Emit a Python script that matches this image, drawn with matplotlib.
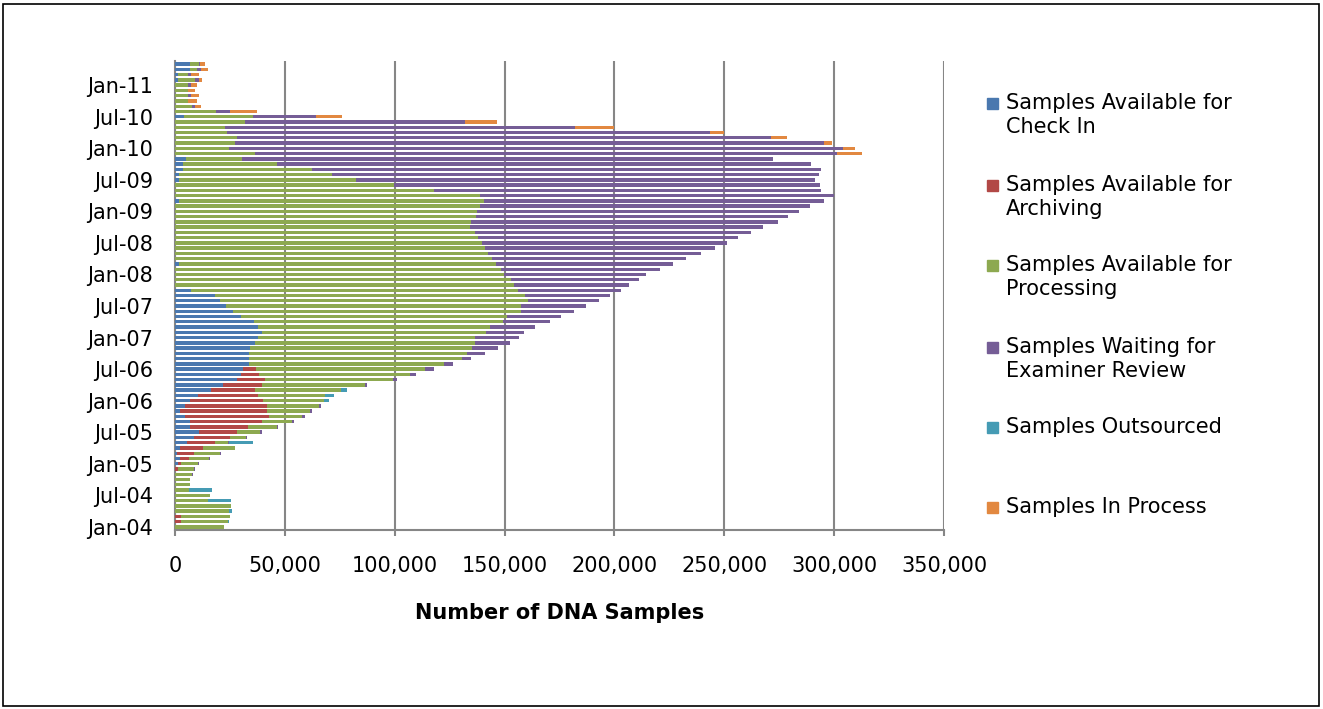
import numpy as np
import pandas as pd
import matplotlib
matplotlib.use('Agg')
import matplotlib.pyplot as plt
from matplotlib.patches import Rectangle

# monthly backlog, Jan-04 .. May-11, values in thousands of samples
months = pd.date_range('2004-01-01', periods=89, freq='MS')

check_in = [0, 0, 0, 0, 0, 0, 0, 0, 0, 0, 0, 0,
            1.2, 2.4, 0.8, 2.4, 5.4, 8.5, 11.0, 6.9, 6.8, 4.5, 2.4, 4.7,
            6.9, 10.6, 16.5, 21.9, 28.2, 30.0, 31.0, 33.7, 33.9, 33.9, 34.3, 36.5,
            38.0, 39.4, 37.6, 36.1, 30.2, 26.2, 23.3, 20.7, 18.1, 7.5, 0, 0,
            0, 0, 1.6, 0, 0, 0, 0, 0, 0, 0, 0, 0,
            0, 0, 2.0, 0, 0, 0, 1.6, 2.0, 3.5, 3.5, 4.9, 0,
            0, 0, 0, 0, 0, 0, 3.9, 0, 0, 0, 0, 0,
            0, 1.4, 1.4, 6.7, 6.7]

archiving = [0, 2.9, 2.9, 0, 0, 0, 0, 0, 0, 0, 0, 1.4,
             1.7, 4.1, 8.0, 10.4, 12.8, 16.6, 17.4, 26.3, 32.8, 38.2, 39.4, 37.1,
             33.1, 27.3, 20.1, 17.7, 12.7, 8.2, 5.9, 0, 0, 0, 0, 0,
             0, 0, 0, 0, 0, 0, 0, 0, 0, 0, 0, 0,
             0, 0, 0, 0, 0, 0, 0, 0, 0, 0, 0, 0,
             0, 0, 0, 0, 0, 0, 0, 0, 0, 0, 0, 0,
             0, 0, 0, 0, 0, 0, 0, 0, 0, 0, 0, 0,
             0, 0, 0, 0, 0]

processing = [22.3, 21.3, 22.2, 24.6, 25.5, 15.1, 16.0, 6.5, 6.9, 6.9, 7.6, 7.2,
              7.6, 8.9, 11.8, 14.5, 6.0, 7.1, 10.4, 13.3, 13.6, 15.1, 19.6, 23.9,
              27.6, 30.4, 39.0, 47.1, 58.1, 68.9, 77.0, 88.8, 96.7, 98.9, 100.7, 100.1,
              98.7, 102.3, 105.8, 113.1, 121.0, 131.1, 134.4, 139.9, 141.1, 148.8, 154.3, 152.7,
              149.6, 148.2, 144.5, 144.1, 142.3, 141.1, 139.7, 138.0, 136.6, 134.2, 134.8, 136.8,
              137.6, 138.6, 138.6, 138.9, 118.1, 99.5, 80.8, 69.4, 58.7, 42.8, 25.4, 36.3,
              24.6, 27.4, 28.0, 23.8, 22.9, 31.7, 31.5, 18.7, 7.9, 5.7, 6.1, 5.7,
              6.1, 7.7, 4.7, 3.5, 4.3]

examiner = [0, 0, 0, 0, 0, 0, 0, 0, 0, 0, 0.5, 0.5,
            0.3, 0.5, 0.5, 0, 0.3, 0.6, 0.6, 0.3, 1.1, 1.2, 1.1, 0.9,
            0, 0, 0, 0.9, 2.1, 2.7, 4.1, 3.9, 4.1, 8.3, 12.2, 16.0,
            19.9, 17.3, 20.3, 21.5, 24.6, 24.4, 29.4, 32.5, 39.0, 46.7, 52.4, 58.7,
            64.8, 72.5, 80.6, 88.5, 97.2, 104.5, 111.4, 118.1, 125.5, 133.4, 139.7, 142.3,
            146.6, 150.4, 154.9, 161.0, 176.0, 194.0, 208.7, 221.7, 231.6, 243.2, 241.8, 264.9,
            279.5, 268.0, 243.2, 219.9, 159.2, 100.1, 28.6, 6.5, 1.0, 0.4, 1.0, 0.4,
            1.0, 1.6, 1.0, 1.8, 0.6]

outsourced = [0, 0.5, 0, 1.4, 0, 10.4, 0, 10.4, 0, 0, 0, 0,
              0, 0, 0, 0, 10.9, 0, 0, 0, 0, 0, 0, 0,
              2.3, 3.9, 2.6, 0, 0, 0, 0, 0, 0, 0, 0, 0,
              0, 0, 0, 0, 0, 0, 0, 0, 0, 0, 0, 0,
              0, 0, 0, 0, 0, 0, 0, 0, 0, 0, 0, 0,
              0, 0, 0, 0, 0, 0, 0, 0, 0, 0, 0, 0,
              0, 0, 0, 0, 0, 0, 0, 0, 0, 0, 0, 0,
              0, 0, 0, 0, 0]

in_process = [0] * 71 + [11.4,
              5.3, 3.5, 7.3, 6.1, 17.7, 14.8, 12.2, 12.0, 3.0, 4.1, 3.7, 3.2,
              3.0, 1.8, 3.7, 2.8, 2.2]

labels = ['Samples Available for\nCheck In',
          'Samples Available for\nArchiving',
          'Samples Available for\nProcessing',
          'Samples Waiting for\nExaminer Review',
          'Samples Outsourced',
          'Samples In Process']
colors = ['#4a78af', '#b24846', '#8da950', '#755d96', '#459bb4', '#e28840']
series = [check_in, archiving, processing, examiner, outsourced, in_process]

plt.rcParams['font.family'] = 'DejaVu Sans'
plt.rcParams['font.size'] = 15

fig = plt.figure(figsize=(13.23, 7.09), dpi=100)
ax = fig.add_axes([175 / 1323, 1 - 530 / 709, (944 - 175) / 1323, (530 - 61) / 709])

y = np.arange(len(months))
left = np.zeros(len(months))
for vals, c in zip(series, colors):
    v = np.array(vals) * 1000
    ax.barh(y, v, left=left, height=0.65, color=c, linewidth=0, zorder=3)
    left += v

ax.set_xlim(0, 350000)
ax.set_ylim(-0.6, len(months) - 0.4)
ax.set_xticks(np.arange(0, 350001, 50000))
ax.set_xticklabels([f'{v:,}' for v in range(0, 350001, 50000)])
ax.set_yticks(y[::6])
ax.set_yticklabels([d.strftime('%b-%y') for d in months[::6]])

ax.grid(axis='x', color='#868686', linewidth=1.5, zorder=0)
for s in ['top', 'right']:
    ax.spines[s].set_visible(False)
for s in ['left', 'bottom']:
    ax.spines[s].set_color('#868686')
    ax.spines[s].set_linewidth(1.5)
ax.tick_params(axis='x', length=4.5, width=1.5, color='#868686', pad=14)
ax.tick_params(axis='y', length=0, pad=16)
ax.set_xlabel('Number of DNA Samples', fontweight='bold', labelpad=20)

# legend on the right, marker beside the first line of each entry
leg_y = [104, 186, 266, 348, 428, 508]
for lab, c, yy in zip(labels, colors, leg_y):
    fig.patches.append(Rectangle(((987) / 1323, 1 - (yy + 5) / 709), 11 / 1323, 11 / 709,
                                 transform=fig.transFigure, color=c))
    fig.text(1006 / 1323, 1 - (yy - 11) / 709, lab, va='top', ha='left',
             linespacing=1.25)

fig.patches.append(Rectangle((3 / 1323, 3 / 709), 1316 / 1323, 702 / 709,
                             transform=fig.transFigure, fill=False,
                             edgecolor='black', linewidth=1.2))

fig.savefig('out.png', dpi=100)
